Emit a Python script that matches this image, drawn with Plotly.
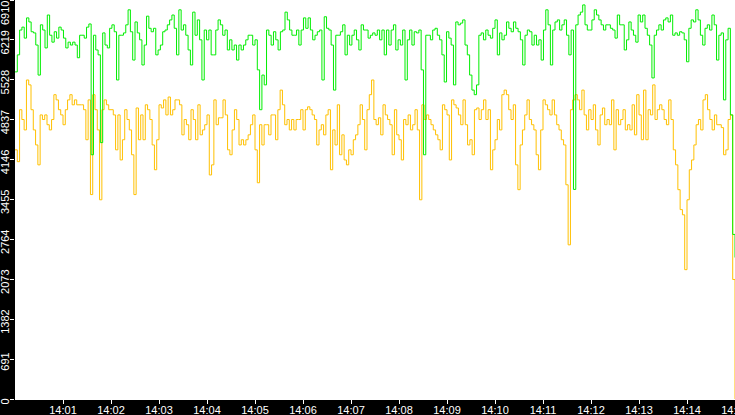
import pandas as pd
import plotly.graph_objects as go

# values, left to right (14:00 -> 14:15)
green_values = [
    5665, 5960, 6390, 6440, 6250, 6600, 6530, 6360, 6340, 6130,
    5610, 6480, 6390, 6080, 6650, 6300, 6180, 6360, 6250, 6440,
    6390, 6250, 6080, 6180, 6130, 6180, 6130, 5910, 6300, 6300,
    6250, 6440, 6495, 4230, 6300, 6045, 5960, 4440, 6340, 6130,
    6080, 6420, 6480, 6360, 5525, 6300, 6300, 6340, 6480, 6740,
    6360, 5870, 6530, 6340, 6220, 5785, 6130, 6630, 6420, 6360,
    6420, 5960, 6045,
    6130, 6360, 6390, 6480, 6565, 6650, 6420, 5960, 6740, 6390,
    6480, 6300, 6045, 5785, 6700, 6300, 6565, 6220, 5525, 6390,
    6220, 6390, 5960, 5960, 6390, 6565, 6480, 6300, 6390, 6045,
    6220, 6045, 6130, 5870, 6130, 6045, 6130, 6220, 6300, 6300,
    6130, 6220, 5700, 5010, 5610, 5440, 6390, 6300, 6130, 6360,
    6220, 6045, 6360, 6390, 6700, 6565, 6390, 6300, 6300, 6390,
    6130, 6390, 6600, 6420,
    6600, 6390, 6220, 6300, 6360, 6390, 5525, 6620, 6420, 6390,
    6130, 5350, 6300, 6300, 6360, 6480, 5960, 6300, 6130, 6300,
    6390, 6220, 6045, 6480, 6390, 6390, 6250, 6300, 6340, 6300,
    6390, 6220, 6390, 5960, 6390, 6130, 6390, 6480, 6045, 6220,
    6130, 6390, 5525, 6220, 6390, 6130, 6360, 6340, 6390, 5700,
    4230, 6300, 6300, 6220, 6390, 6420, 6300, 6220, 5960, 5490,
    6360, 6250, 6130, 5440, 6530, 6480,
    6510, 6565, 6130, 5960, 5610, 5350, 5270, 5440, 6300, 6340,
    6220, 6390, 6300, 6250, 6420, 6565, 5960, 6340, 6220, 6300,
    6530, 6420, 6360, 6530, 6420, 6360, 6220, 5785, 6300, 6390,
    6360, 6130, 6300, 6130, 6220, 5870, 6390, 6740, 6480, 5785,
    6390, 6530, 6565, 6390, 6480, 6565, 6300, 5960, 6390, 3630,
    6480, 6650, 6700, 6825, 6480, 6390, 6390, 6565, 6740, 6650,
    6565, 6480, 6390, 6480, 6480, 6420,
    6390, 6250, 6650, 6480, 6480, 6045, 6220, 6530, 6390, 6300,
    6180, 6650, 6530, 6650, 6420, 6300, 6130, 5560, 6300, 6390,
    6480, 6390, 6565, 6600, 6530, 6650, 6300, 6340, 6300, 6360,
    6340, 6220, 5840, 6420, 6565, 6530, 6740, 6565, 6300, 6130,
    6420, 6480, 6390, 6650, 6480, 5870, 6300, 6340, 5180, 6220,
    6420, 4920, 2850, 2450,
]

orange_values = [
    4315, 4110, 5010, 4840, 4660, 5525, 5440, 5010, 4660, 4400,
    4055, 4920, 4840, 4920, 4750, 4660, 4840, 5270, 5180, 5010,
    4920, 4750, 5010, 5180, 5270, 5095, 5180, 5095, 5095, 5095,
    5010, 4490, 5180, 3540, 5270, 5010, 4660, 3450, 5010, 5180,
    5095, 5010, 5010, 4920, 4315, 4920, 4140, 4490, 5010, 4840,
    4660, 4230, 3540, 5040, 4490, 4920, 4490, 5095, 5010, 4840,
    4400, 3970, 4490,
    5095, 5040, 5180, 4920, 5230, 4920, 5010, 5180, 5180, 5095,
    4575, 4840, 4750, 4490, 5010, 4840, 4490, 5095, 4575, 4660,
    4750, 4920, 3880, 4055, 5180, 4750, 4870, 4870, 5180, 4920,
    4315, 4230, 4660, 5010, 4840, 4400, 4490, 4400, 4490, 4575,
    4750, 4920, 4315, 3745, 4750, 4400, 4750, 4750, 4575, 4920,
    4920, 4490, 5010, 5350, 5095, 4750, 4840, 4660, 4840, 4660,
    4840, 4840, 5010, 4660,
    5010, 5060, 5010, 4920, 4840, 4400, 4660, 4750, 4575, 4920,
    5010, 3970, 4660, 4400, 5095, 4230, 4575, 4140, 4055, 4315,
    4230, 4490, 4575, 4750, 5095, 4840, 4315, 5010, 5270, 5525,
    4840, 4750, 4870, 4575, 5095, 4920, 4840, 4750, 4230, 5010,
    4575, 4490, 4140, 4840, 4750, 4920, 4660, 4750, 5010, 4660,
    3450, 5095, 4840, 4920, 4840, 4750, 4660, 4575, 4490, 4315,
    5095, 5010, 4920, 4140, 5180, 5095,
    5040, 4920, 4750, 5180, 4750, 4400, 4490, 4230, 5010, 5040,
    4840, 5010, 5180, 4840, 5010, 3970, 4315, 4490, 4840, 4660,
    5270, 5350, 5270, 5010, 4840, 5095, 4055, 3625, 4400, 4660,
    4920, 5180, 4840, 4750, 4660, 4230, 3970, 4660, 5180, 5095,
    5010, 4920, 5180, 4920, 4750, 4660, 4490, 4400, 3710, 2670,
    5010, 5180, 5270, 5180, 5010, 5350, 4920, 4660, 5010, 4840,
    5095, 4660, 4400, 4920, 5040, 4750,
    4840, 4750, 5180, 4315, 5010, 4750, 4840, 5010, 4660, 4750,
    4660, 5095, 4575, 5270, 4920, 4490, 5350, 4490, 5010, 4920,
    5440, 4840, 5010, 5095, 5010, 4840, 4750, 5180, 4840, 4315,
    4055, 3625, 3280, 3190, 2240, 3450, 3970, 4140, 4400, 4750,
    4840, 4660, 5180, 5270, 5010, 4840, 4660, 4920, 4750, 4750,
    4700, 4230, 4315, 4840, 4920, 2070, 0,
]

start_time = "2024-01-01 14:00:00"
end_time = "2024-01-01 14:15:00"

x_tick_labels = ["14:01", "14:02", "14:03", "14:04", "14:05", "14:06", "14:07",
                 "14:08", "14:09", "14:10", "14:11", "14:12", "14:13", "14:14",
                 "14:15"]
y_tick_values = [0, 691, 1382, 2073, 2764, 3455, 4146, 4837, 5528, 6219, 6910]

green_times = pd.date_range(start_time, end_time, periods=len(green_values))
orange_times = pd.date_range(start_time, end_time, periods=len(orange_values))
x_tick_values = ["2024-01-01 " + t + ":00" for t in x_tick_labels]

# top label is drawn as an annotation so it stays inside the page
y_tick_text = [str(v) for v in y_tick_values[:-1]] + [""]

label_font = dict(family="Liberation Sans", size=11, color="white")

fig = go.Figure()
fig.add_trace(go.Scatter(x=orange_times, y=orange_values, mode="lines",
                         line=dict(color="#ffc000", width=1, shape="hv"),
                         hoverinfo="skip"))
fig.add_trace(go.Scatter(x=green_times, y=green_values, mode="lines",
                         line=dict(color="#00ee00", width=1, shape="hv"),
                         hoverinfo="skip"))

fig.add_annotation(text=str(y_tick_values[-1]), xref="paper", yref="paper",
                   x=0, y=1, xanchor="right", yanchor="top", xshift=-3,
                   textangle=-90, showarrow=False, borderpad=0,
                   font=label_font)

fig.update_layout(
    width=735, height=415,
    margin=dict(l=15, r=0, t=0, b=16, pad=0, autoexpand=False),
    paper_bgcolor="black",
    plot_bgcolor="white",
    showlegend=False,
    font=label_font,
    xaxis=dict(
        range=[start_time, end_time],
        tickvals=x_tick_values, ticktext=x_tick_labels,
        ticks="outside", ticklen=4, tickcolor="white", tickwidth=1,
        ticklabelstandoff=-3,
        showgrid=False, zeroline=False,
        showline=True, linecolor="white", linewidth=1,
        ticklabeloverflow="allow", automargin=False,
        fixedrange=True,
    ),
    yaxis=dict(
        range=[0, 6910],
        tickvals=y_tick_values, ticktext=y_tick_text,
        tickangle=-90,
        ticks="outside", ticklen=4, tickcolor="white", tickwidth=1,
        ticklabelshift=4, ticklabelstandoff=-3,
        showgrid=False, zeroline=False, showline=False,
        ticklabeloverflow="allow", automargin=False,
        fixedrange=True,
    ),
)

# drop the page's default body margin so the chart fills the window
fig.write_html("out.html", config={"displayModeBar": False},
               post_script="document.body.style.margin='0';"
                           "document.body.style.overflow='hidden';")
